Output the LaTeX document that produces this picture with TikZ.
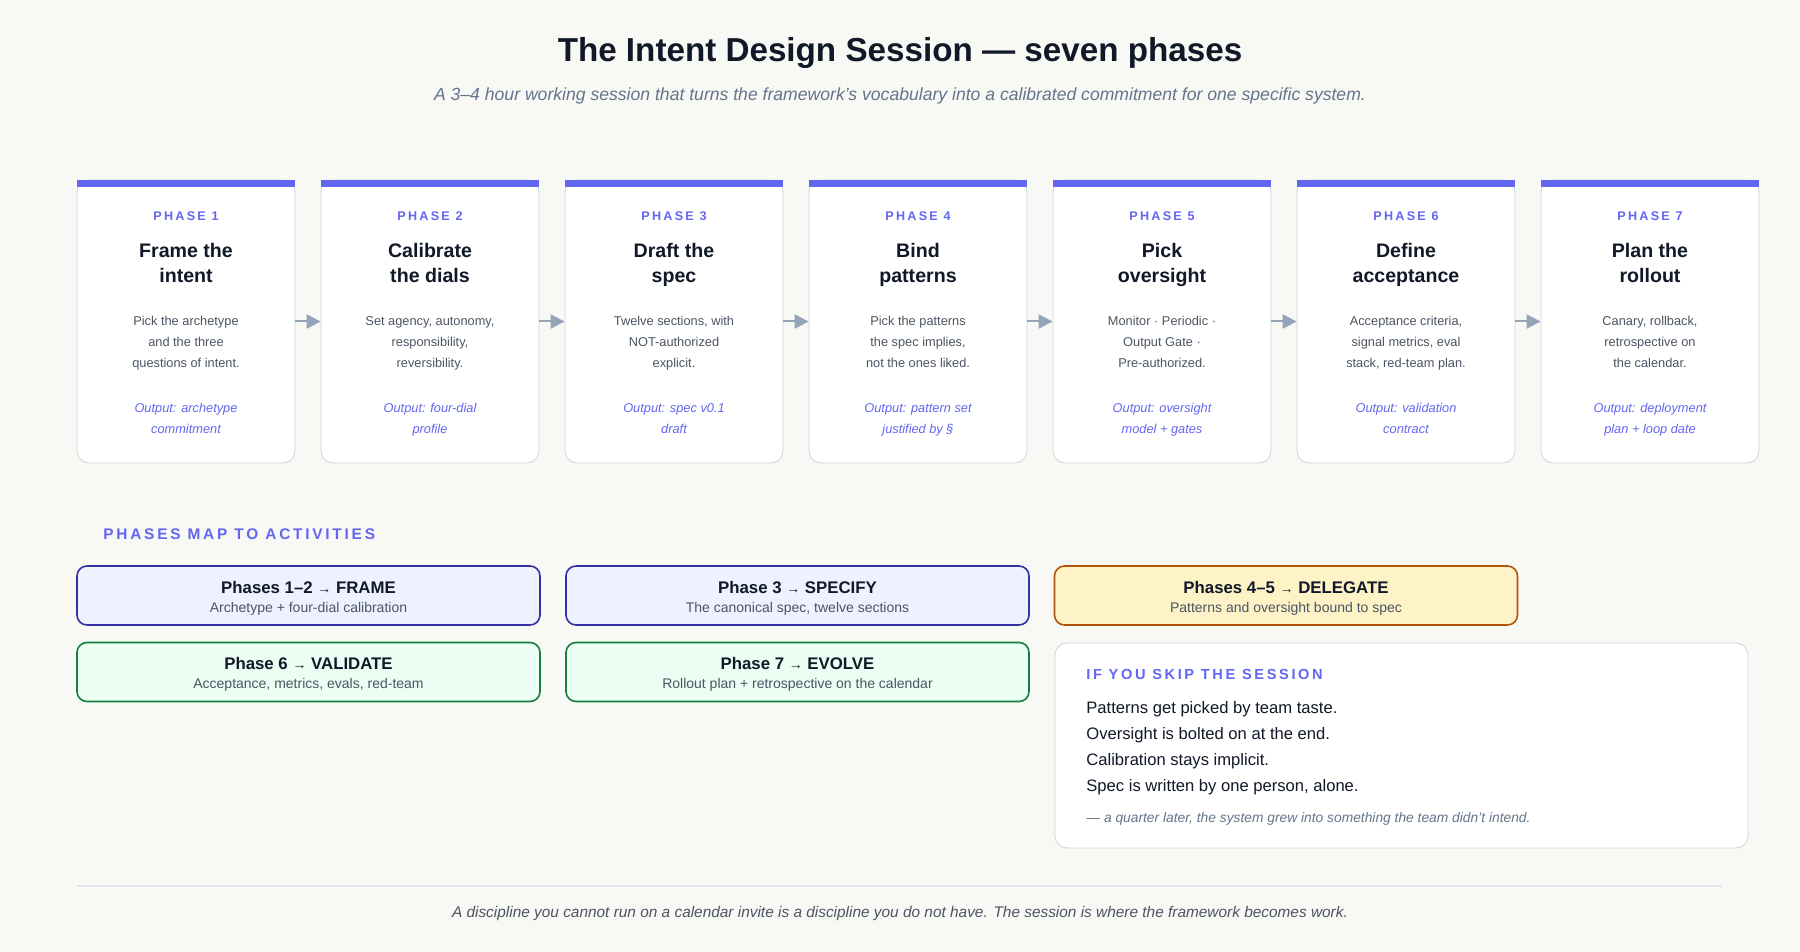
\documentclass[tikz,border=0pt]{standalone}
\usepackage{fontspec}
\setmainfont{Liberation Sans}
\usetikzlibrary{arrows.meta,positioning}
\definecolor{bg}{HTML}{F8F8F5}
\definecolor{indigo}{HTML}{6366F1}
\definecolor{ink}{HTML}{111827}
\definecolor{body}{HTML}{4B5563}
\definecolor{slate}{HTML}{64748B}
\definecolor{arrowgray}{HTML}{94A3B8}
\definecolor{cardline}{HTML}{CBD5E1}
\definecolor{bluefill}{HTML}{EEF2FF}
\definecolor{blueline}{HTML}{3730A3}
\definecolor{greenfill}{HTML}{ECFDF3}
\definecolor{greenline}{HTML}{15803D}
\definecolor{yellowfill}{HTML}{FEF3C7}
\definecolor{yellowline}{HTML}{B45309}
\tikzset{
  card/.style={draw=cardline, fill=white, rounded corners=6pt, minimum width=109pt, minimum height=141.5pt, inner sep=0pt},
  phase/.style={text=indigo, font=\fontsize{6.3}{7}\selectfont\bfseries\addfontfeature{LetterSpace=18}},
  ctitle/.style={text=ink, align=center, anchor=north, inner sep=0pt, font=\fontsize{9.8}{12.5}\selectfont\bfseries},
  cdesc/.style={text=body, align=center, anchor=north, inner sep=0pt, font=\fontsize{6.4}{10.3}\selectfont},
  cout/.style={text=indigo, align=center, anchor=north, inner sep=0pt, font=\fontsize{6.4}{10.3}\selectfont\itshape},
  flow/.style={draw=arrowgray, line width=1pt, -{Triangle[length=7pt,width=7pt]}},
  act/.style={rounded corners=5pt, line width=0.8pt, minimum width=231.5pt, minimum height=29.5pt, inner sep=0pt},
  atitle/.style={text=ink, font=\fontsize{8.4}{9}\selectfont\bfseries},
  asub/.style={text=body, font=\fontsize{7}{8}\selectfont},
  skipline/.style={text=ink, anchor=west, inner sep=0pt, font=\fontsize{8.3}{9}\selectfont}
}
\begin{document}
\begin{tikzpicture}[x=0.5pt,y=-0.5pt]
\useasboundingbox[fill=bg] (0,0) rectangle (1800,952);
\node[text=ink, font=\fontsize{16.6}{18}\selectfont\bfseries] (title) at (900,53) {The Intent Design Session — seven phases};
\node[text=slate, font=\fontsize{8.8}{10}\selectfont\itshape] (subtitle) at (900,96) {A 3–4 hour working session that turns the framework's vocabulary into a calibrated commitment for one specific system.};

% phase cards
\foreach \i/\t/\d/\o in {
  1/{Frame the\\intent}/{Pick the archetype\\and the three\\questions of intent.}/{Output: archetype\\commitment},
  2/{Calibrate\\the dials}/{Set agency, autonomy,\\responsibility,\\reversibility.}/{Output: four-dial\\profile},
  3/{Draft the\\spec}/{Twelve sections, with\\NOT-authorized\\explicit.}/{Output: spec v0.1\\draft},
  4/{Bind\\patterns}/{Pick the patterns\\the spec implies,\\not the ones liked.}/{Output: pattern set\\justified by §},
  5/{Pick\\oversight}/{Monitor · Periodic ·\\Output Gate ·\\Pre-authorized.}/{Output: oversight\\model + gates},
  6/{Define\\acceptance}/{Acceptance criteria,\\signal metrics, eval\\stack, red-team plan.}/{Output: validation\\contract},
  7/{Plan the\\rollout}/{Canary, rollback,\\retrospective on\\the calendar.}/{Output: deployment\\plan + loop date}}{
  \node[card] (c\i) at ({186+244*(\i-1)},321.5) {};
  \fill[indigo] (c\i.north west) rectangle ([yshift=-3.5pt]c\i.north east);
  \node[phase] (p\i) at ({186+244*(\i-1)},216) {PHASE \i};
  \node[ctitle] (t\i) at ({186+244*(\i-1)},240) {\strut\t};
  \node[cdesc] (d\i) at ({186+244*(\i-1)},311) {\strut\d};
  \node[cout] (o\i) at ({186+244*(\i-1)},398) {\strut\o};
}
\foreach \i [evaluate=\i as \j using int(\i+1)] in {1,...,6}
  \draw[flow] (c\i.east) -- (c\j.west);

% activities
\node[text=indigo, anchor=west, inner sep=0pt, font=\fontsize{7.7}{9}\selectfont\bfseries\addfontfeature{LetterSpace=18}] (maphead) at (103,534) {PHASES MAP TO ACTIVITIES};
\node[act, draw=blueline, fill=bluefill] (a1) at (308.5,595.5) {};
\node[act, draw=blueline, fill=bluefill] (a2) at (797.5,595.5) {};
\node[act, draw=yellowline, fill=yellowfill] (a3) at (1286,595.5) {};
\node[act, draw=greenline, fill=greenfill] (a4) at (308.5,672) {};
\node[act, draw=greenline, fill=greenfill] (a5) at (797.5,672) {};
\foreach \n/\t/\s in {
  a1/{Phases 1–2 {\scriptsize →} FRAME}/{Archetype + four-dial calibration},
  a2/{Phase 3 {\scriptsize →} SPECIFY}/{The canonical spec, twelve sections},
  a3/{Phases 4–5 {\scriptsize →} DELEGATE}/{Patterns and oversight bound to spec},
  a4/{Phase 6 {\scriptsize →} VALIDATE}/{Acceptance, metrics, evals, red-team},
  a5/{Phase 7 {\scriptsize →} EVOLVE}/{Rollout plan + retrospective on the calendar}}{
  \node[atitle] (\n t) at ([yshift=-4.3pt]\n.north) [below] {\t};
  \node[asub] (\n s) at ([yshift=1.8pt]\n.south) [above] {\s};
}

% skip box
\node[card, minimum width=346.5pt, minimum height=102.5pt] (skip) at (1401.5,745.5) {};
\node[skipline, text=indigo, font=\fontsize{7.3}{8}\selectfont\bfseries\addfontfeature{LetterSpace=18}] (skiphead) at (1086,674) {IF YOU SKIP THE SESSION};
\foreach \k/\y/\t in {1/709/{Patterns get picked by team taste.}, 2/735/{Oversight is bolted on at the end.}, 3/761/{Calibration stays implicit.}, 4/787/{Spec is written by one person, alone.}}
  \node[skipline] (s\k) at (1086,\y) {\t};
\node[skipline, text=slate, font=\fontsize{6.9}{8}\selectfont\itshape] (quote) at (1086,819) {— a quarter later, the system grew into something the team didn't intend.};

% footer
\coordinate (rl) at (77,886);
\coordinate (rr) at (1722,886);
\draw[draw=cardline!60, line width=0.6pt] (rl) -- (rr);
\node[text=body, font=\fontsize{7.7}{9}\selectfont\itshape] (footer) at (900,914) {A discipline you cannot run on a calendar invite is a discipline you do not have. The session is where the framework becomes work.};
\end{tikzpicture}
\end{document}
